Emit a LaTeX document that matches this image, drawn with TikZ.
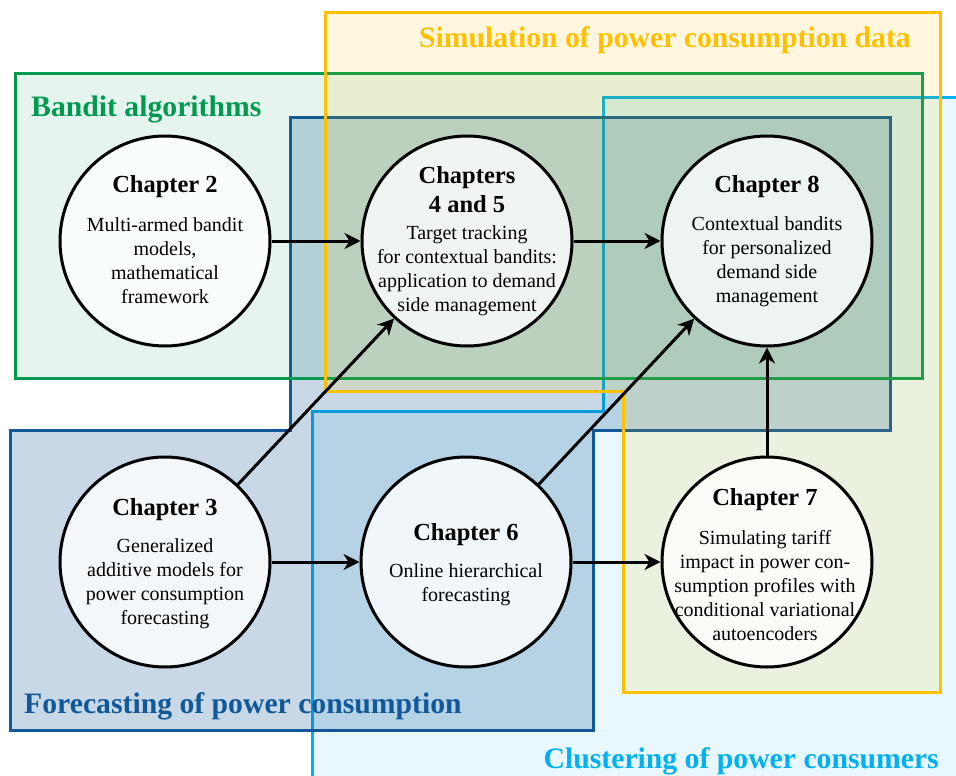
\documentclass[tikz,border=0pt]{standalone}
\usepackage{fontspec}
\setmainfont{Liberation Serif}
\usetikzlibrary{arrows.meta}
\definecolor{ylw}{RGB}{255,192,0}
\definecolor{grn}{RGB}{0,153,80}
\definecolor{dblu}{RGB}{16,88,152}
\definecolor{cyn}{RGB}{0,176,240}
\begin{document}
\begin{tikzpicture}[x=1pt,y=-1pt,
 region/.style={line width=3pt, line join=miter},
 chap/.style={circle, draw=black, line width=3pt, fill=white, fill opacity=0.8, minimum size=210pt, inner sep=0pt},
 ttl/.style={font=\fontsize{24.5}{29}\selectfont\bfseries, align=center, inner sep=0pt},
 bdy/.style={font=\fontsize{20}{24}\selectfont, align=center, inner sep=0pt},
 grp/.style={font=\fontsize{29.7}{34}\selectfont\bfseries, inner sep=0pt},
 arr/.style={-{Stealth[length=16pt,width=16pt,inset=5pt]}, line width=3pt}
]
\useasboundingbox (0,0) rectangle (956,776);
% regions
\draw[region, draw=cyn, fill=cyn, fill opacity=0.09] (603,97) -- (970,97) -- (970,790) -- (312,790) -- (312,411) -- (603,411) -- cycle;
\draw[region, draw=dblu, fill=dblu, fill opacity=0.23] (10,430) -- (290,430) -- (290,117) -- (890,117) -- (890,430) -- (593,430) -- (593,730) -- (10,730) -- cycle;
\draw[region, draw=grn, fill=grn, fill opacity=0.10] (15,74) rectangle (922,378);
\draw[region, draw=ylw, fill=ylw, fill opacity=0.12] (325,13) -- (940,13) -- (940,692) -- (623,692) -- (623,391) -- (325,391) -- cycle;
% group labels
\node[grp, text=grn, anchor=base west] (lband) at (31,116) {Bandit algorithms};
\node[grp, text=ylw, anchor=base east] (lsim) at (911,48) {Simulation of power consumption data};
\node[grp, text=dblu, anchor=base west] (lfor) at (24,713) {Forecasting of power consumption};
\node[grp, text=cyn, anchor=base east] (lclu) at (939,768) {Clustering of power consumers};
% circles
\node[chap] (c2) at (165,241) {};
\node[chap] (c45) at (467,241) {};
\node[chap] (c8) at (767,241) {};
\node[chap] (c3) at (165,562) {};
\node[chap] (c6) at (466,562) {};
\node[chap] (c7) at (767,562) {};
% arrows
\draw[arr] (c2) -- (c45);
\draw[arr] (c45) -- (c8);
\draw[arr] (c3) -- (c6);
\draw[arr] (c6) -- (c7);
\draw[arr] (c3) -- (c45);
\draw[arr] (c6) -- (c8);
\draw[arr] (c7) -- (c8);
% texts
\node[ttl] (t2) at (165,187) {Chapter 2};
\node[bdy] (b2) at (165,261) {Multi-armed bandit\\models,\\mathematical\\framework};
\node[ttl] (t45) at (467,190) {Chapters\\4 and 5};
\node[bdy] (b45) at (467,270.5) {Target tracking\\for contextual bandits:\\application to demand\\side management};
\node[ttl] (t8) at (767,187) {Chapter 8};
\node[bdy] (b8) at (767,261.5) {Contextual bandits\\for personalized\\demand side\\management};
\node[ttl] (t3) at (165,510) {Chapter 3};
\node[bdy] (b3) at (165,584) {Generalized\\additive models for\\power consumption\\forecasting};
\node[ttl] (t6) at (466,535) {Chapter 6};
\node[bdy] (b6) at (466,585) {Online hierarchical\\forecasting};
\node[ttl] (t7) at (765,500) {Chapter 7};
\node[bdy] (b7) at (765,586) {Simulating tariff\\impact in power con-\\sumption profiles with\\conditional variational\\autoencoders};
\end{tikzpicture}
\end{document}
